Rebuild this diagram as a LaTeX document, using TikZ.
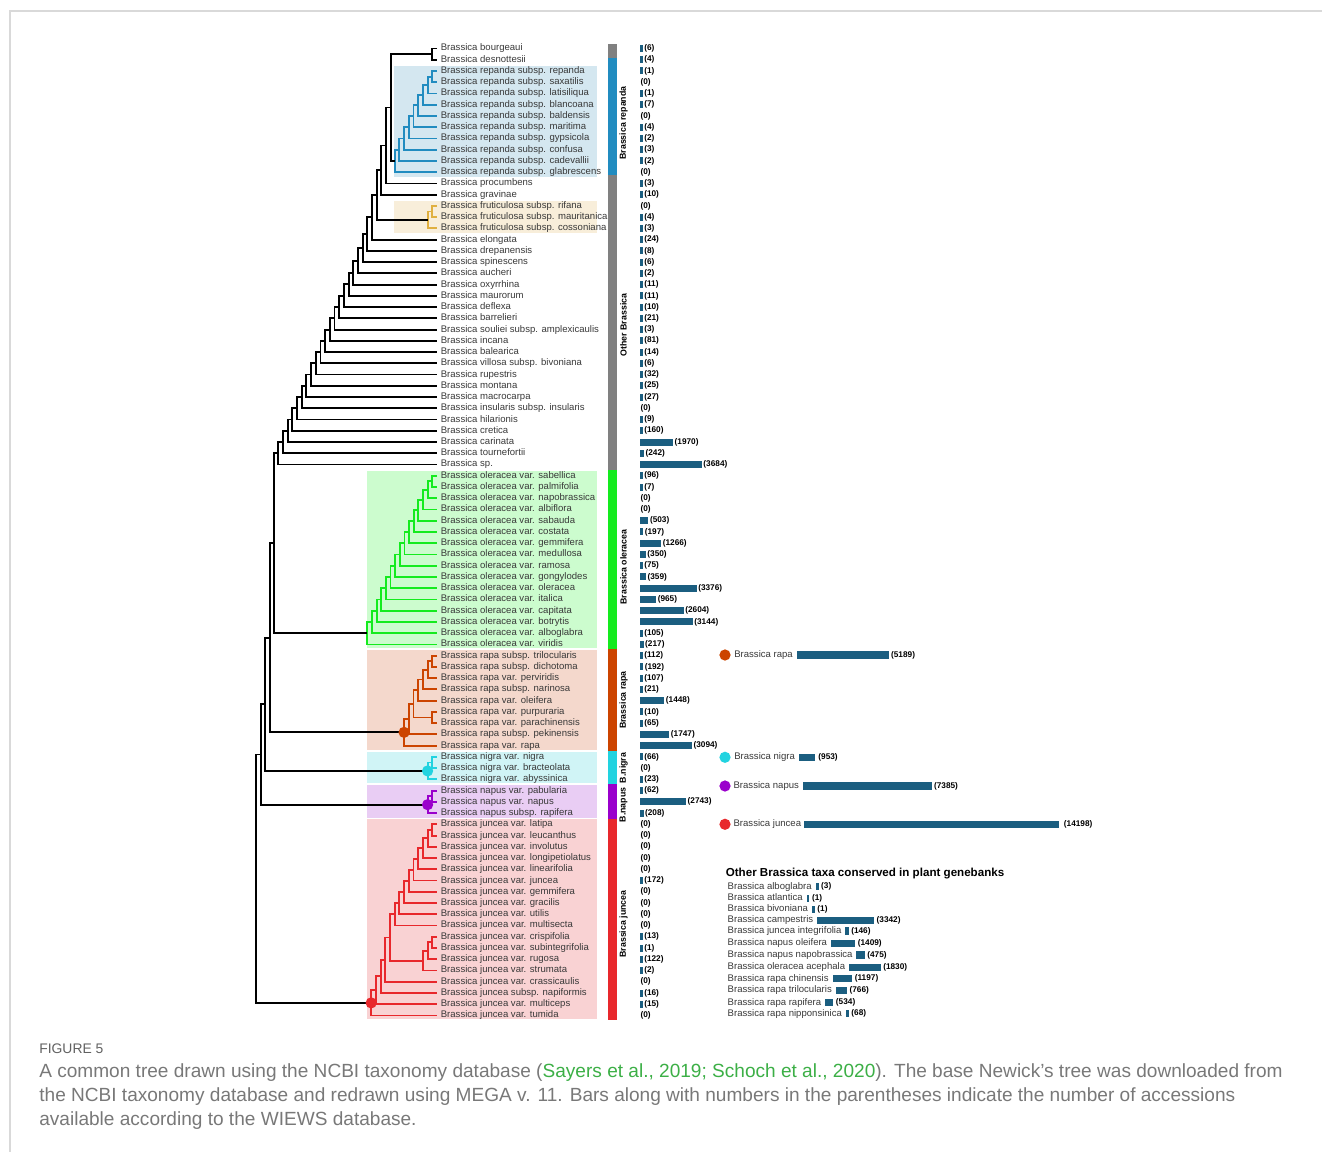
\documentclass[tikz,border=0pt]{standalone}
\usepackage{fontspec}
\setmainfont{Liberation Sans}
\usepackage{tikz}
\usetikzlibrary{positioning,calc}

\definecolor{barblue}{RGB}{27,94,128}
\definecolor{repcol}{RGB}{33,140,192}
\definecolor{repbg}{RGB}{212,231,240}
\definecolor{frucol}{RGB}{224,176,64}
\definecolor{frubg}{RGB}{248,238,218}
\definecolor{olecol}{RGB}{20,235,30}
\definecolor{olebg}{RGB}{204,252,206}
\definecolor{rapcol}{RGB}{204,68,0}
\definecolor{rapbg}{RGB}{244,216,204}
\definecolor{nigcol}{RGB}{34,211,224}
\definecolor{nigbg}{RGB}{208,244,246}
\definecolor{napcol}{RGB}{154,0,204}
\definecolor{napbg}{RGB}{233,205,244}
\definecolor{juncol}{RGB}{232,40,44}
\definecolor{junbg}{RGB}{249,210,211}
\definecolor{stripgray}{RGB}{128,128,128}
\definecolor{capgray}{RGB}{120,120,120}
\definecolor{capgreen}{RGB}{60,175,70}

\tikzset{%
  branch/.style={line width=1.05pt},
  leaf/.style={
    anchor=west,
    inner xsep=2pt,
    inner ysep=0pt,
    text height=4pt,
    text depth=1.2pt,
    text=black!78,
    font=\fontsize{5.44}{6}\selectfont
  },
  nlabel/.style={
    anchor=west,
    inner xsep=0.7pt,
    inner ysep=0pt,
    font=\bfseries\fontsize{4.7}{5}\selectfont
  },
  grouplabel/.style={rotate=90, inner sep=0pt, font=\bfseries\fontsize{5}{6}\selectfont},
  sumdot/.style={circle, inner sep=0pt, minimum size=6.4pt},
  sumlabel/.style={
    inner xsep=0.5pt,
    inner ysep=0pt,
    text height=4pt,
    text depth=1.2pt,
    text=black!78,
    font=\fontsize{5.44}{6}\selectfont
  },
  hbar/.style={rectangle, fill=barblue, inner sep=0pt, minimum height=4.3pt},
}

% elbow joining two children at a given x
\newcommand\clade[5][black]{%
  \path ($(#4)!0.5!(#5)$) coordinate (mid_tmp);
  \coordinate (#2) at (#3,0 |- mid_tmp);
  \draw[branch,#1] (#4) -| (#2) |- (#5);
}

\begin{document}
\begin{tikzpicture}[x=0.02cm, y=-0.02cm]
\useasboundingbox (0,0) rectangle (1322,1152);
\draw[gray!30, line width=0.6pt] (10,1152) -- (10,11) -- (1322,11);

% shaded groups
\fill[repbg] (394,66) rectangle (597,177.5);
\fill[frubg] (394,201.5) rectangle (597,233.5);
\fill[olebg] (367,471) rectangle (597,647.7);
\fill[rapbg] (367,649.7) rectangle (597,749.7);
\fill[nigbg] (367,751.7) rectangle (597,783);
\fill[napbg] (367,785) rectangle (597,817.7);
\fill[junbg] (367,819) rectangle (597,1019);

% group strip
\fill[stripgray] (608,44) rectangle (617,58);
\fill[repcol] (608,58) rectangle (617,175);
\fill[stripgray] (608,175) rectangle (617,470);
\fill[olecol] (608,470) rectangle (617,649);
\fill[rapcol] (608,649) rectangle (617,751);
\fill[nigcol] (608,751) rectangle (617,783.5);
\fill[napcol] (608,783.5) rectangle (617,819);
\fill[juncol] (608,819) rectangle (617,1020);
\node[grouplabel] (grp_rep) at (623.5,123) {Brassica repanda};
\node[grouplabel] (grp_oth) at (623.5,325) {Other Brassica};
\node[grouplabel] (grp_ole) at (623.5,567) {Brassica oleracea};
\node[grouplabel] (grp_rap) at (623.5,700) {Brassica rapa};
\node[grouplabel] (grp_nig) at (623.5,768) {B.nigra};
\node[grouplabel] (grp_nap) at (623.5,805) {B.napus};
\node[grouplabel] (grp_jun) at (623.5,924) {Brassica juncea};

% taxa
\foreach \nm [count=\i] in {bourgeaui, desnottesii,
  repanda subsp. repanda, repanda subsp. saxatilis, repanda subsp. latisiliqua,
  repanda subsp. blancoana, repanda subsp. baldensis, repanda subsp. maritima,
  repanda subsp. gypsicola, repanda subsp. confusa, repanda subsp. cadevallii,
  repanda subsp. glabrescens, procumbens, gravinae,
  fruticulosa subsp. rifana, fruticulosa subsp. mauritanica, fruticulosa subsp. cossoniana,
  elongata, drepanensis, spinescens, aucheri, oxyrrhina, maurorum, deflexa, barrelieri,
  souliei subsp. amplexicaulis, incana, balearica, villosa subsp. bivoniana, rupestris,
  montana, macrocarpa, insularis subsp. insularis, hilarionis, cretica, carinata,
  tournefortii, sp.,
  oleracea var. sabellica, oleracea var. palmifolia, oleracea var. napobrassica,
  oleracea var. albiflora, oleracea var. sabauda, oleracea var. costata,
  oleracea var. gemmifera, oleracea var. medullosa, oleracea var. ramosa,
  oleracea var. gongylodes, oleracea var. oleracea, oleracea var. italica,
  oleracea var. capitata, oleracea var. botrytis, oleracea var. alboglabra,
  oleracea var. viridis,
  rapa subsp. trilocularis, rapa subsp. dichotoma, rapa var. perviridis,
  rapa subsp. narinosa, rapa var. oleifera, rapa var. purpuraria,
  rapa var. parachinensis, rapa subsp. pekinensis, rapa var. rapa,
  nigra var. nigra, nigra var. bracteolata, nigra var. abyssinica,
  napus var. pabularia, napus var. napus, napus subsp. rapifera,
  juncea var. latipa, juncea var. leucanthus, juncea var. involutus,
  juncea var. longipetiolatus, juncea var. linearifolia, juncea var. juncea,
  juncea var. gemmifera, juncea var. gracilis, juncea var. utilis,
  juncea var. multisecta, juncea var. crispifolia, juncea var. subintegrifolia,
  juncea var. rugosa, juncea var. strumata, juncea var. crassicaulis,
  juncea subsp. napiformis, juncea var. multiceps, juncea var. tumida}
  \node[leaf] (leaf_\i) at (437,{48.5+(\i-1)*11.244}) {Brassica \nm};

% tree
\clade{top_1}{432.3}{leaf_1}{leaf_2}
\clade[repcol]{rep_1}{432.3}{leaf_3}{leaf_4}
\clade[repcol]{rep_2}{427.6}{rep_1}{leaf_5}
\clade[repcol]{rep_3}{422.9}{rep_2}{leaf_6}
\clade[repcol]{rep_4}{418.2}{rep_3}{leaf_7}
\clade[repcol]{rep_5}{413.5}{rep_4}{leaf_8}
\clade[repcol]{rep_6}{408.8}{rep_5}{leaf_9}
\clade[repcol]{rep_7}{404.1}{rep_6}{leaf_10}
\clade[repcol]{rep_8}{399.4}{rep_7}{leaf_11}
\clade[repcol]{rep_9}{394.7}{rep_8}{leaf_12}
\clade[frucol]{fru_1}{432.3}{leaf_15}{leaf_16}
\clade[frucol]{fru_2}{427.6}{fru_1}{leaf_17}
\clade{bb_2}{390.7}{top_1}{rep_9}
\clade{bb_3}{386.0}{bb_2}{leaf_13}
\clade{bb_4}{381.3}{bb_3}{leaf_14}
\clade{bb_5}{376.6}{bb_4}{fru_2}
\clade{bb_6}{372.0}{bb_5}{leaf_18}
\clade{bb_7}{367.3}{bb_6}{leaf_19}
\clade{bb_8}{362.6}{bb_7}{leaf_20}
\clade{bb_9}{357.9}{bb_8}{leaf_21}
\clade{bb_10}{353.2}{bb_9}{leaf_22}
\clade{bb_11}{348.6}{bb_10}{leaf_23}
\clade{bb_12}{343.9}{bb_11}{leaf_24}
\clade{bb_13}{339.2}{bb_12}{leaf_25}
\clade{bb_14}{334.5}{bb_13}{leaf_26}
\clade{bb_15}{329.8}{bb_14}{leaf_27}
\clade{bb_16}{325.2}{bb_15}{leaf_28}
\clade{bb_17}{320.5}{bb_16}{leaf_29}
\clade{bb_18}{315.8}{bb_17}{leaf_30}
\clade{bb_19}{311.1}{bb_18}{leaf_31}
\clade{bb_20}{306.4}{bb_19}{leaf_32}
\clade{bb_21}{301.7}{bb_20}{leaf_33}
\clade{bb_22}{297.1}{bb_21}{leaf_34}
\clade{bb_23}{292.4}{bb_22}{leaf_35}
\clade{bb_24}{287.7}{bb_23}{leaf_36}
\clade{bb_25}{283.0}{bb_24}{leaf_37}
\clade{bb_26}{278.3}{bb_25}{leaf_38}

\clade[olecol]{ole_1}{432.3}{leaf_39}{leaf_40}
\clade[olecol]{ole_2}{427.7}{ole_1}{leaf_41}
\clade[olecol]{ole_3}{423.0}{ole_2}{leaf_42}
\clade[olecol]{ole_4}{418.4}{ole_3}{leaf_43}
\clade[olecol]{ole_5}{413.7}{ole_4}{leaf_44}
\clade[olecol]{ole_6}{409.1}{ole_5}{leaf_45}
\clade[olecol]{ole_7}{404.5}{ole_6}{leaf_46}
\clade[olecol]{ole_8}{399.8}{ole_7}{leaf_47}
\clade[olecol]{ole_9}{395.2}{ole_8}{leaf_48}
\clade[olecol]{ole_10}{390.5}{ole_9}{leaf_49}
\clade[olecol]{ole_11}{385.9}{ole_10}{leaf_50}
\clade[olecol]{ole_12}{381.3}{ole_11}{leaf_51}
\clade[olecol]{ole_13}{376.6}{ole_12}{leaf_52}
\clade[olecol]{ole_14}{372.0}{ole_13}{leaf_53}
\clade[olecol]{ole_15}{367.4}{ole_14}{leaf_54}

\clade[rapcol]{rap_1}{432.3}{leaf_55}{leaf_56}
\clade[rapcol]{rap_2}{427.6}{rap_1}{leaf_57}
\clade[rapcol]{rap_3}{422.9}{rap_2}{leaf_58}
\clade[rapcol]{rap_4}{418.2}{rap_3}{leaf_59}
\clade[rapcol]{rap_q}{432.3}{leaf_60}{leaf_61}
\clade[rapcol]{rap_5}{413.5}{rap_4}{rap_q}
\clade[rapcol]{rap_6}{408.8}{rap_5}{leaf_62}
\clade[rapcol]{rap_7}{404.1}{rap_6}{leaf_63}

\clade[nigcol]{nig_1}{432.3}{leaf_64}{leaf_65}
\clade[nigcol]{nig_2}{427.6}{nig_1}{leaf_66}
\clade[napcol]{nap_1}{432.3}{leaf_67}{leaf_68}
\clade[napcol]{nap_2}{427.6}{nap_1}{leaf_69}

\clade[juncol]{jun_1}{432.3}{leaf_70}{leaf_71}
\clade[juncol]{jun_2}{427.6}{jun_1}{leaf_72}
\clade[juncol]{jun_3}{422.9}{jun_2}{leaf_73}
\clade[juncol]{jun_4}{418.2}{jun_3}{leaf_74}
\clade[juncol]{jun_5}{413.5}{jun_4}{leaf_75}
\clade[juncol]{jun_6}{408.8}{jun_5}{leaf_76}
\clade[juncol]{jun_7}{404.1}{jun_6}{leaf_77}
\clade[juncol]{jun_8}{399.4}{jun_7}{leaf_78}
\clade[juncol]{jun_9}{394.7}{jun_8}{leaf_79}
\clade[juncol]{junk_1}{432.3}{leaf_80}{leaf_81}
\clade[juncol]{junk_2}{427.6}{junk_1}{leaf_82}
\clade[juncol]{junk_3}{422.9}{junk_2}{leaf_83}
\clade[juncol]{jun_10}{390.0}{jun_9}{junk_3}
\clade[juncol]{jun_11}{385.3}{jun_10}{leaf_84}
\clade[juncol]{jun_12}{380.6}{jun_11}{leaf_85}
\clade[juncol]{jun_13}{375.9}{jun_12}{leaf_86}
\clade[juncol]{jun_14}{371.2}{jun_13}{leaf_87}

\clade{root_1}{274.0}{bb_26}{ole_15}
\clade{root_2}{269.8}{root_1}{rap_7}
\clade{root_3}{265.2}{root_2}{nig_2}
\clade{root_4}{260.8}{root_3}{nap_2}
\clade{root_5}{256.0}{root_4}{jun_14}

\node[sumdot, fill=rapcol] at (rap_7) {};
\node[sumdot, fill=nigcol] at (nig_2) {};
\node[sumdot, fill=napcol] at (nap_2) {};
\node[sumdot, fill=juncol] at (jun_14) {};

% accessions per taxon
\foreach \v [count=\i] in {6,4,1,0,1,7,0,4,2,3,2,0,3,10,0,4,3,24,8,6,2,11,11,10,21,3,
  81,14,6,32,25,27,0,9,160,1970,242,3684,
  96,7,0,0,503,197,1266,350,75,359,3376,965,2604,3144,105,217,
  112,192,107,21,1448,10,65,1747,3094,66,0,23,62,2743,208,
  0,0,0,0,0,172,0,0,0,0,13,1,122,2,0,16,15,0}{
  \pgfmathsetmacro\yy{48.5+(\i-1)*11.244}
  \pgfmathsetmacro\ww{max(2.7,0.0168*\v)}
  \ifnum\v=0
    \node[nlabel] (num_\i) at (639,\yy) {(0)};
  \else
    \fill[barblue] (640,\yy-3.5) rectangle (640+\ww,\yy+3.5);
    \node[nlabel] (num_\i) at (640+\ww,\yy) {(\v)};
  \fi
}

% species totals
\node[sumdot, fill=rapcol] (sum_rapa_dot) at (725,655) {};
\node[sumlabel, right=1.2pt of sum_rapa_dot] (sum_rapa) {Brassica rapa};
\node[hbar, minimum width=52.4pt, right=1.6pt of sum_rapa] (sum_rapa_bar) {};
\node[nlabel, right=0pt of sum_rapa_bar] {(5189)};

\node[sumdot, fill=nigcol] (sum_nigra_dot) at (725,757.3) {};
\node[sumlabel, right=1.2pt of sum_nigra_dot] (sum_nigra) {Brassica nigra};
\node[hbar, minimum width=9.6pt, right=1.2pt of sum_nigra] (sum_nigra_bar) {};
\node[nlabel, right=0.6pt of sum_nigra_bar] {(953)};

\node[sumdot, fill=napcol] (sum_napus_dot) at (725,786) {};
\node[sumlabel, right=0.8pt of sum_napus_dot] (sum_napus) {Brassica napus};
\node[hbar, minimum width=73.5pt, right=1.4pt of sum_napus] (sum_napus_bar) {};
\node[nlabel, right=0pt of sum_napus_bar] {(7385)};

\node[sumdot, fill=juncol] (sum_juncea_dot) at (725,824.3) {};
\node[sumlabel, right=0.8pt of sum_juncea_dot] (sum_juncea) {Brassica juncea};
\node[hbar, minimum width=145pt, right=0.8pt of sum_juncea] (sum_juncea_bar) {};
\node[nlabel, right=1.8pt of sum_juncea_bar] {(14198)};

% other taxa in genebanks
\node[anchor=west, inner sep=0pt, font=\bfseries\fontsize{6.6}{7}\selectfont] (oth_title) at (725.5,874) {Other Brassica taxa conserved in plant genebanks};
\foreach \nm/\v/\bw/\yy [count=\i] in {alboglabra/3/1.7/886.7, atlantica/1/1.7/898.3,
  bivoniana/1/1.7/909.3, campestris/3342/32.4/920.3, juncea integrifolia/146/1.9/931,
  napus oleifera/1409/13.8/943.3, napus napobrassica/475/4.7/955,
  oleracea acephala/1830/18/967.3, rapa chinensis/1197/11.2/978.7,
  rapa trilocularis/766/6.4/990.3, rapa rapifera/534/4.7/1002.7,
  rapa nipponsinica/68/1.7/1013.7}{
  \node[sumlabel, anchor=west] (oth_\i) at (726.5,\yy) {Brassica \nm};
  \node[hbar, minimum width=\bw pt, right=1.3pt of oth_\i] (othbar_\i) {};
  \node[nlabel, right=0.4pt of othbar_\i] {(\v)};
}

% caption
\node[anchor=base west, inner sep=0pt, text=black!62, font=\fontsize{7.9}{9}\selectfont] (fig_no) at (39,1053) {FIGURE 5};
\node[anchor=base west, inner sep=0pt, text=capgray, font=\fontsize{10.85}{13}\selectfont] (cap_1) at (39,1077)
  {A common tree drawn using the NCBI taxonomy database (\textcolor{capgreen}{Sayers et al., 2019; Schoch et al., 2020}). The base Newick’s tree was downloaded from};
\node[anchor=base west, inner sep=0pt, text=capgray, font=\fontsize{10.85}{13}\selectfont] (cap_2) at (39,1101)
  {the NCBI taxonomy database and redrawn using MEGA v. 11. Bars along with numbers in the parentheses indicate the number of accessions};
\node[anchor=base west, inner sep=0pt, text=capgray, font=\fontsize{10.85}{13}\selectfont] (cap_3) at (39,1125)
  {available according to the WIEWS database.};
\end{tikzpicture}
\end{document}
